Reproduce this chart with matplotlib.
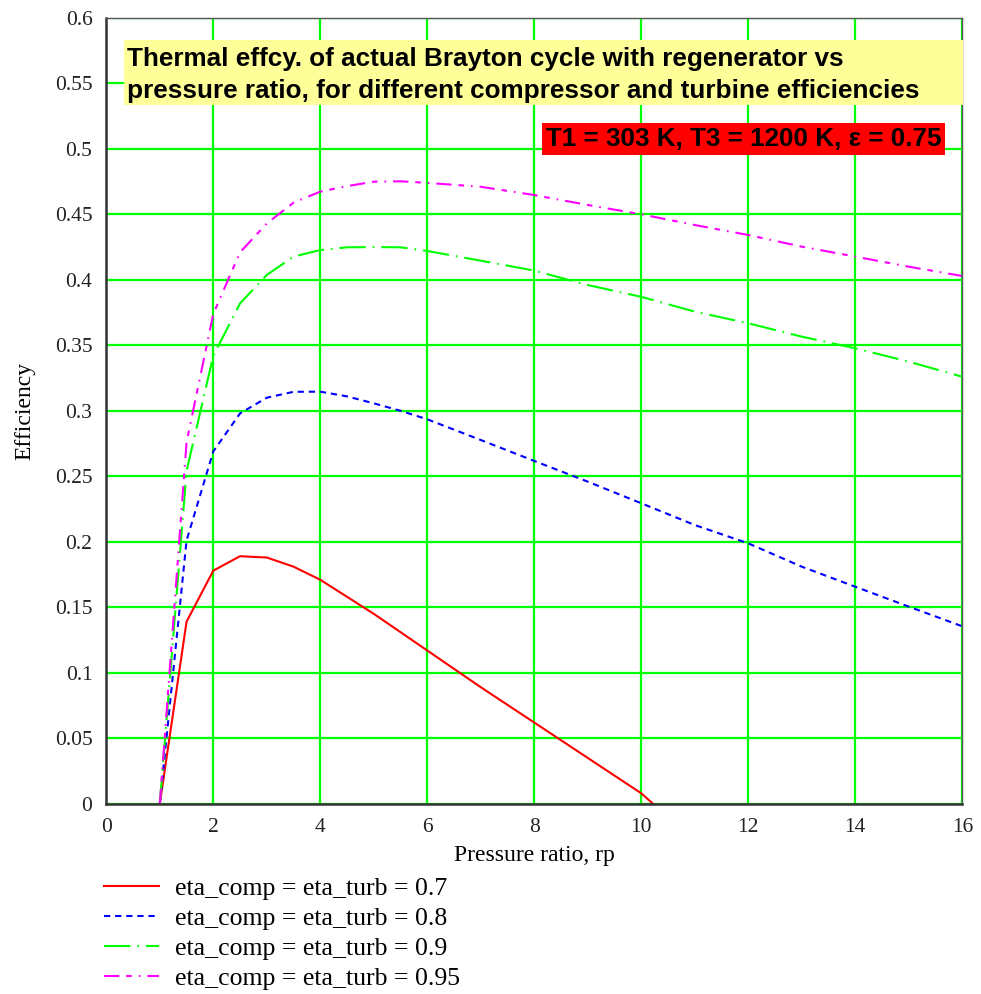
import matplotlib
matplotlib.use("Agg")
import matplotlib.pyplot as plt
from matplotlib.patches import Rectangle
from matplotlib.ticker import FixedLocator, FuncFormatter

plt.rcParams['lines.scale_dashes'] = False

# ---- data ----
rp = [1, 1.5, 2, 2.5, 3, 3.5, 4, 4.5, 5, 5.5, 6, 7, 8, 9, 10, 11, 12, 13, 14, 15, 16]

rp_red = [1, 1.5, 2, 2.5, 3, 3.5, 4, 4.5, 5, 5.5, 6, 7, 8, 9, 10, 10.22]
eff_070 = [0.0, 0.139, 0.178, 0.189, 0.188, 0.181, 0.171, 0.158, 0.145, 0.131,
           0.117, 0.089, 0.062, 0.035, 0.008, 0.0]
eff_080 = [0.0, 0.201, 0.269, 0.298, 0.310, 0.3145, 0.3146, 0.311, 0.3057, 0.300,
           0.2935, 0.2777, 0.2617, 0.2459, 0.2294, 0.2128, 0.1988, 0.181, 0.1657,
           0.1505, 0.1355]
eff_090 = [0.0, 0.254, 0.342, 0.382, 0.4037, 0.4177, 0.4227, 0.4248, 0.4250,
           0.4248, 0.422, 0.4146, 0.407, 0.396, 0.387, 0.3757, 0.3668, 0.3566,
           0.3477, 0.3375, 0.326]
eff_095 = [0.0, 0.276, 0.374, 0.4210, 0.443, 0.4589, 0.4673, 0.4715, 0.4749,
           0.4752, 0.4740, 0.4710, 0.4647, 0.4571, 0.4500, 0.4418, 0.4342,
           0.4253, 0.4177, 0.4100, 0.4029]

labels = ["eta_comp = eta_turb = 0.7", "eta_comp = eta_turb = 0.8",
          "eta_comp = eta_turb = 0.9", "eta_comp = eta_turb = 0.95"]

xticks = [0, 2, 4, 6, 8, 10, 12, 14, 16]
yticks = [0, 0.05, 0.1, 0.15, 0.2, 0.25, 0.3, 0.35, 0.4, 0.45, 0.5, 0.55, 0.6]

title_text = ("Thermal effcy. of actual Brayton cycle with regenerator vs\n"
              "pressure ratio, for different compressor and turbine efficiencies")
cond_text = "T1 = 303 K, T3 = 1200 K, \u03b5 = 0.75"

# ---- figure ----
W, H = 981, 994
fig = plt.figure(figsize=(W / 100, H / 100), dpi=100)
ax_l, ax_r, ax_t, ax_b = 106.3, 962.3, 17.8, 803.8
ax = fig.add_axes([ax_l / W, 1 - ax_b / H, (ax_r - ax_l) / W, (ax_b - ax_t) / H])

serif = "Liberation Serif"
sans = "Liberation Sans"

lw = 1.5
l1, = ax.plot(rp_red, eff_070, color="#ff0000", lw=lw, label=labels[0])
l2, = ax.plot(rp, eff_080, color="#0000ff", lw=lw, dashes=(4.5, 3.5), label=labels[1])
l3, = ax.plot(rp, eff_090, color="#00ff00", lw=lw, dashes=(19, 5, 1.2, 5), label=labels[2])
l4, = ax.plot(rp, eff_095, color="#ff00ff", lw=lw, dashes=(11, 5, 4, 5, 1.2, 5), label=labels[3])

ax.set_xlim(0, 16)
ax.set_ylim(0, 0.6)
ax.xaxis.set_major_locator(FixedLocator(xticks))
ax.yaxis.set_major_locator(FixedLocator(yticks))
ax.yaxis.set_major_formatter(FuncFormatter(lambda v, p: f"{v:g}"))
ax.xaxis.set_major_formatter(FuncFormatter(lambda v, p: f"{v:g}"))
ax.grid(True, color="#00ff00", lw=1.6)
ax.set_axisbelow(True)
ax.tick_params(length=0, pad=10, labelsize=15.5, colors="#222222")
for lab in ax.get_xticklabels() + ax.get_yticklabels():
    lab.set_family(serif)
for s in ["left", "bottom"]:
    ax.spines[s].set_linewidth(1.8)
    ax.spines[s].set_color("#333333")
for s in ["top", "right"]:
    ax.spines[s].set_linewidth(1.0)
    ax.spines[s].set_color("#555555")

ax.set_xlabel("Pressure ratio, rp", family=serif, fontsize=17, labelpad=6)
ax.set_ylabel("Efficiency", family=serif, fontsize=17, labelpad=14)

# title box
def px2ax(x, y):
    return ((x - ax_l) / (ax_r - ax_l), 1 - (y - ax_t) / (ax_b - ax_t))

x0, y0 = px2ax(124, 105)
x1, y1 = px2ax(963, 40)
ax.add_patch(Rectangle((x0, y0), x1 - x0, y1 - y0, transform=ax.transAxes,
                       facecolor="#ffff99", edgecolor="none", zorder=5, clip_on=False))
tx, ty = px2ax(127, 75)
ax.text(tx, ty, title_text, transform=ax.transAxes, family=sans, fontweight="bold",
        fontsize=18.8, ha="left", va="center", linespacing=1.45, zorder=6)

x0, y0 = px2ax(542, 155)
x1, y1 = px2ax(945, 123)
ax.add_patch(Rectangle((x0, y0), x1 - x0, y1 - y0, transform=ax.transAxes,
                       facecolor="#ff0000", edgecolor="none", zorder=5))
tx, ty = px2ax(744, 139)
ax.text(tx, ty, cond_text, transform=ax.transAxes, family=sans, fontweight="bold",
        fontsize=18.7, ha="center", va="center", zorder=6)

leg = fig.legend(handles=[l1, l2, l3, l4], loc="upper left",
                 bbox_to_anchor=(104 / W, 1 - 877 / H), frameon=False,
                 prop={"family": serif, "size": 18.5}, handlelength=2.15,
                 handletextpad=0.6, labelspacing=0.27, borderpad=0, borderaxespad=0)

fig.savefig("out.png", dpi=100)
